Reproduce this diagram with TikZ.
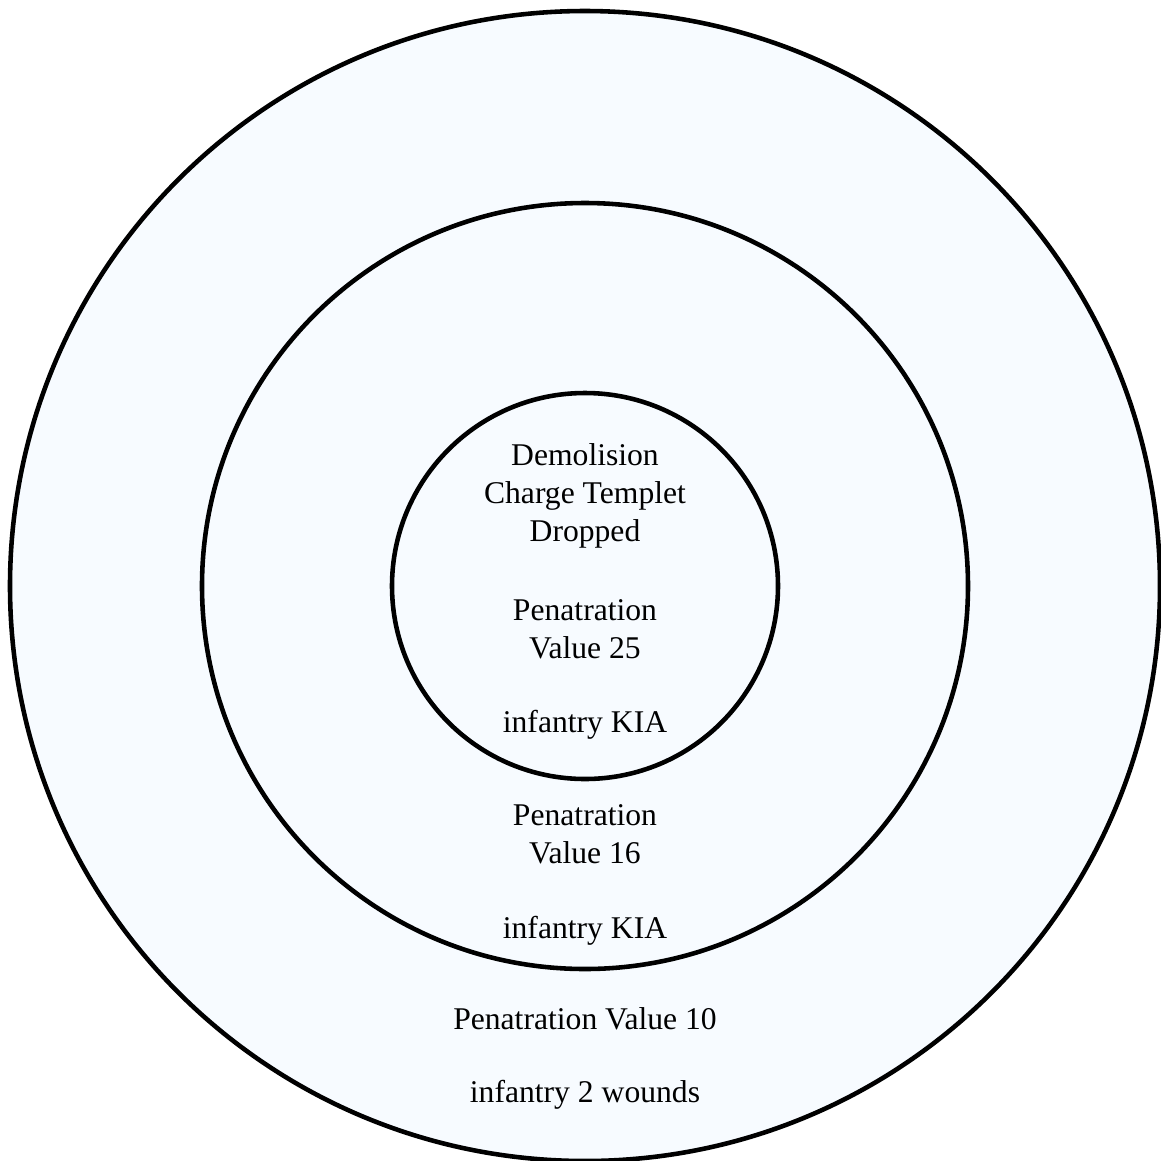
\documentclass[tikz,border=0pt]{standalone}
\usepackage{fontspec}
\setmainfont{Liberation Serif}
\definecolor{paleblue}{RGB}{247,251,255}
\begin{document}
\begin{tikzpicture}[x=0.02cm, y=-0.02cm, line width=2.6pt,
        ring/.style={draw=black, fill=paleblue},
        txt/.style={align=center, font=\fontsize{18}{21.5}\selectfont, inner sep=0pt}]
    \useasboundingbox (0,0) rectangle (1161,1161);
    \foreach \r in {575, 383, 193} {
        \draw[ring] (585,586) circle (\r);
    }
    \node[txt] (drop) at (585,496) {Demolision\\Charge Templet\\Dropped};
    \node[txt] (pv25) at (585,629) {Penatration\\Value 25};
    \node[txt] (kia1) at (585,725) {infantry KIA};
    \node[txt] (pv16) at (585,834) {Penatration\\Value 16};
    \node[txt] (kia2) at (585,931) {infantry KIA};
    \node[txt] (pv10) at (585,1019) {Penatration Value 10};
    \node[txt] (wnd) at (585,1095) {infantry 2 wounds};
\end{tikzpicture}
\end{document}
